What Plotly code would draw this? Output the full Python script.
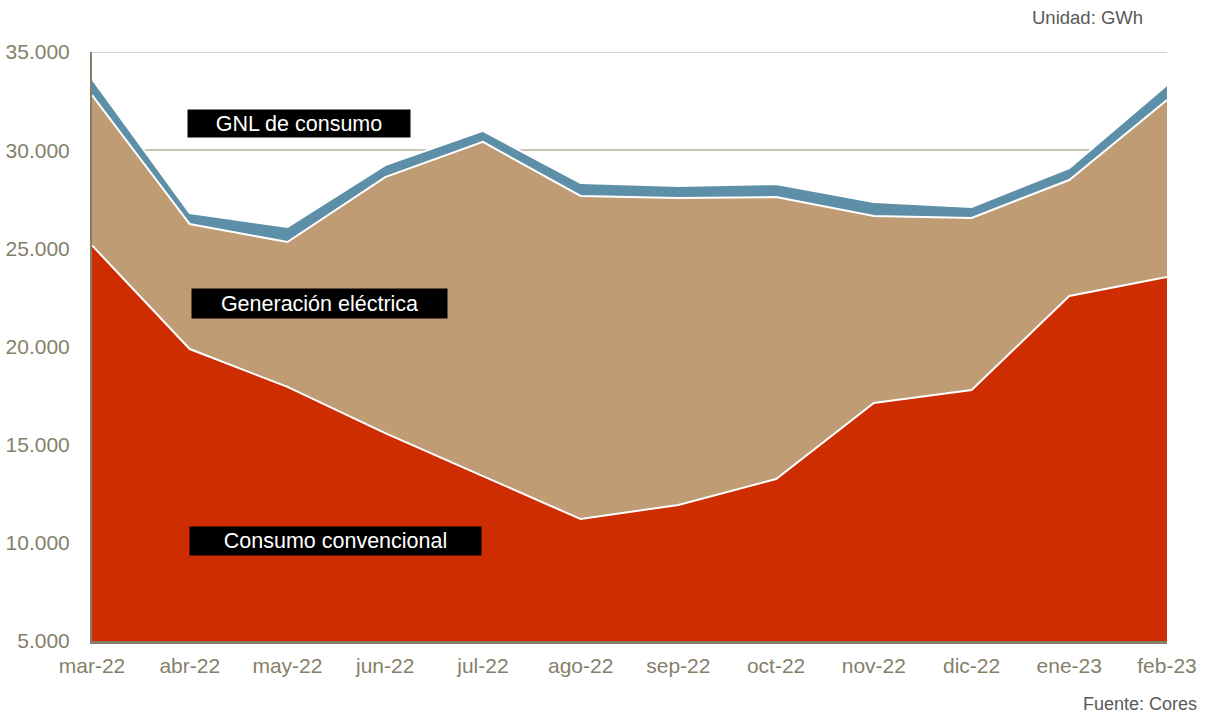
import plotly.graph_objects as go

# Monthly natural gas demand by use, GWh
months = ["mar-22", "abr-22", "may-22", "jun-22", "jul-22", "ago-22",
          "sep-22", "oct-22", "nov-22", "dic-22", "ene-23", "feb-23"]
consumo_convencional = [25150, 19870, 17940, 15590, 13400, 11210,
                        11930, 13250, 17120, 17780, 22570, 23540]
generacion_electrica = [7660, 6370, 7380, 13040, 17020, 16460,
                        15630, 14360, 9530, 8770, 5910, 9020]
gnl_consumo = [820, 560, 770, 610, 560, 660,
               610, 670, 710, 560, 610, 760]

series = [
    ("Consumo convencional", consumo_convencional, "#cd2d00"),
    ("Generación eléctrica", generacion_electrica, "#c09c74"),
    ("GNL de consumo", gnl_consumo, "#5e8fa8"),
]

axis_grey = "#857f6a"
grid_beige = "#cdc5b4"
font_family = "Liberation Sans, Arial, sans-serif"
y_min, y_max = 5000, 35000

fig = go.Figure()
for name, values, color in series:
    fig.add_trace(go.Scatter(
        x=months, y=values, name=name, mode="lines",
        stackgroup="one", fillcolor=color,
        line=dict(color="white", width=2),
        hoverinfo="x+y+name",
    ))

plot_l, plot_r, plot_t, plot_b = 92, 1167, 52, 641
pw, ph = plot_r - plot_l, plot_b - plot_t

# Black label boxes on each band
labels = [
    ("GNL de consumo", 0.1926, 0.8786, 222, 27),
    ("Generación eléctrica", 0.2116, 0.573, 255, 29),
    ("Consumo convencional", 0.2265, 0.1698, 291, 28),
]
annotations = []
for text, ax, ay, w, h in labels:
    annotations.append(dict(
        text=text, x=ax, y=ay, xref="paper", yref="paper",
        xanchor="center", yanchor="middle", showarrow=False,
        width=w, height=h, bgcolor="black", borderpad=0,
        font=dict(color="white", size=21.5, family=font_family),
    ))

annotations.append(dict(
    text="Unidad: GWh", x=(1145 - plot_l) / pw, y=(plot_b - 17) / ph,
    xref="paper", yref="paper", xanchor="right", yanchor="middle",
    showarrow=False, font=dict(color="#595959", size=18.5, family=font_family),
))
annotations.append(dict(
    text="Fuente: Cores", x=(1199 - plot_l) / pw, y=(plot_b - 704) / ph,
    xref="paper", yref="paper", xanchor="right", yanchor="middle",
    showarrow=False, font=dict(color="#595959", size=18, family=font_family),
))

fig.update_layout(
    width=1209, height=717,
    margin=dict(l=plot_l, r=1209 - plot_r, t=plot_t, b=717 - plot_b,
                autoexpand=False),
    paper_bgcolor="white", plot_bgcolor="white",
    showlegend=False,
    separators=",.",
    font=dict(family=font_family, color=axis_grey, size=21),
    annotations=annotations,
    shapes=[dict(
        type="line", xref="paper", yref="y", x0=0, x1=1,
        y0=y_max, y1=y_max, layer="below",
        line=dict(color=grid_beige, width=1.5),
    )],
    xaxis=dict(
        type="category", range=[0, len(months) - 1],
        showgrid=False, zeroline=False, automargin=False,
        showline=True, linecolor=axis_grey, linewidth=2.5,
        ticks="", ticklabelstandoff=4,
        tickfont=dict(size=21, color=axis_grey),
    ),
    yaxis=dict(
        range=[y_min, y_max], dtick=5000, tick0=y_min,
        tickformat=",.0f",
        showgrid=True, gridcolor=grid_beige, gridwidth=1.5,
        zeroline=False, automargin=False,
        showline=True, linecolor=axis_grey, linewidth=2,
        ticks="", ticklabelstandoff=16,
        tickfont=dict(size=21, color=axis_grey),
    ),
)

fig.write_html("out.html")
